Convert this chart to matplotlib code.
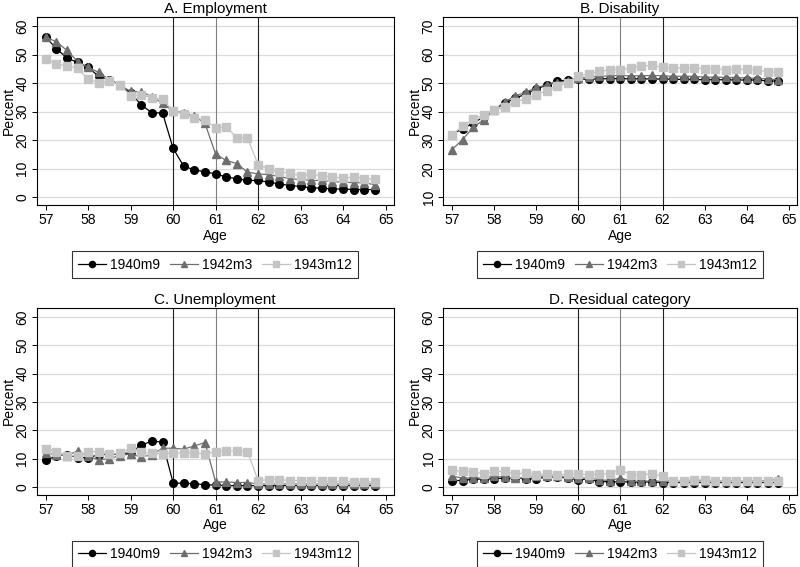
import numpy as np
import matplotlib.pyplot as plt

plt.rcParams['font.family'] = ['Liberation Sans', 'DejaVu Sans']

age = [57 + 0.25 * i for i in range(32)]
cohorts = ['1940m9', '1942m3', '1943m12']

emp_40 = [56.2, 52.1, 48.8, 47.3, 45.5, 42.4, 41.2, 39.4, 36.5, 32.4, 29.6, 29.6,
          17.1, 10.9, 9.6, 8.9, 8.2, 7.1, 6.5, 5.9, 5.9, 5.3, 4.7, 4.1,
          3.8, 3.3, 3.2, 2.9, 2.9, 2.7, 2.7, 2.7]
emp_42 = [56.2, 54.5, 51.5, 47.6, 45.5, 43.8, 41.2, 39.3, 37.1, 37.0, 35.3, 32.9,
          30.2, 29.6, 28.5, 25.9, 15.1, 12.9, 11.8, 8.8, 8.2, 7.9, 7.3, 6.5,
          6.2, 5.9, 5.9, 5.5, 5.3, 5.1, 5.1, 4.4]
emp_43 = [48.6, 46.7, 46.1, 45.3, 41.4, 40.2, 40.8, 39.4, 35.6, 35.9, 34.9, 34.4,
          30.2, 29.1, 27.9, 27.1, 24.4, 24.7, 20.9, 20.8, 11.4, 10.0, 8.8, 8.6,
          7.4, 8.0, 7.6, 7.1, 6.7, 7.1, 6.5, 6.5]

dis_40 = [32.0, 34.1, 35.9, 38.2, 40.6, 43.0, 44.7, 46.2, 47.9, 49.4, 50.6, 51.2,
          51.4, 51.4, 51.5, 51.6, 51.6, 51.5, 51.5, 51.5, 51.4, 51.4, 51.3, 51.3,
          51.2, 51.2, 51.2, 51.1, 51.1, 51.1, 50.8, 50.7]
dis_42 = [26.7, 30.2, 34.5, 37.1, 40.6, 43.5, 45.5, 46.8, 48.5, 49.4, 50.2, 50.8,
          51.8, 52.1, 52.4, 52.6, 52.6, 52.6, 52.6, 52.7, 52.6, 52.4, 52.4, 52.4,
          52.1, 52.1, 52.0, 52.0, 51.8, 51.7, 51.5, 51.2]
dis_43 = [32.0, 34.9, 37.3, 38.8, 40.6, 41.5, 43.5, 44.4, 45.9, 47.4, 49.1, 50.0,
          52.4, 53.3, 54.1, 54.7, 54.7, 55.3, 56.1, 56.2, 55.5, 55.3, 55.3, 55.3,
          55.1, 55.1, 54.7, 54.9, 54.9, 54.7, 53.9, 53.9]

une_40 = [9.4, 11.0, 11.4, 10.4, 10.4, 11.4, 11.6, 11.6, 12.2, 14.7, 16.3, 15.8,
          1.4, 1.3, 1.2, 0.8, 0.7, 0.5, 0.5, 0.5, 0.5, 0.5, 0.5, 0.5,
          0.5, 0.5, 0.5, 0.5, 0.5, 0.5, 0.5, 0.5]
une_42 = [12.0, 11.4, 11.0, 12.8, 10.8, 9.6, 10.0, 11.1, 11.7, 10.6, 11.4, 13.7,
          13.7, 13.4, 14.5, 15.7, 1.8, 1.8, 1.6, 1.6, 1.1, 1.1, 1.1, 1.1,
          1.1, 1.1, 1.1, 1.1, 1.1, 1.1, 1.1, 1.1]
une_43 = [13.4, 12.5, 11.1, 11.0, 12.5, 12.5, 11.6, 12.0, 13.7, 12.2, 12.0, 11.6,
          12.0, 12.0, 12.0, 11.7, 12.5, 12.8, 12.8, 12.5, 2.3, 2.6, 2.6, 2.3,
          2.3, 2.2, 2.0, 2.0, 2.0, 1.9, 1.8, 1.8]

res_40 = [2.3, 2.3, 2.8, 2.8, 2.9, 3.2, 3.2, 2.9, 2.9, 3.5, 3.5, 3.2,
          2.6, 2.8, 1.9, 1.9, 1.8, 1.8, 1.8, 1.8, 1.6, 1.6, 1.6, 1.6,
          1.6, 1.6, 1.6, 1.6, 1.6, 1.6, 1.6, 1.6]
res_42 = [3.8, 3.2, 3.2, 3.2, 3.8, 3.5, 3.2, 3.2, 3.8, 3.8, 3.8, 3.5,
          3.2, 3.2, 2.6, 2.3, 3.2, 2.0, 2.0, 2.2, 2.0, 2.2, 2.2, 2.2,
          2.2, 2.2, 2.2, 2.2, 2.2, 2.2, 2.2, 2.8]
res_43 = [6.1, 5.5, 5.3, 4.7, 5.5, 5.5, 4.7, 4.9, 4.3, 4.7, 4.1, 4.6,
          4.6, 4.3, 4.6, 4.6, 6.1, 4.3, 4.3, 4.6, 3.8, 2.3, 2.3, 2.6,
          2.6, 2.2, 2.2, 2.2, 2.3, 2.0, 2.0, 2.0]

titles = ['A. Employment', 'B. Disability', 'C. Unemployment', 'D. Residual category']
panels = [[emp_40, emp_42, emp_43], [dis_40, dis_42, dis_43],
          [une_40, une_42, une_43], [res_40, res_42, res_43]]
yticks = [range(0, 61, 10), range(10, 71, 10), range(0, 61, 10), range(0, 61, 10)]

colors = ['black', '#6e6e6e', '#c4c4c4']
markers = ['o', '^', 's']
msizes = [5.5, 6, 5.5]

fig = plt.figure(figsize=(8, 5.67), dpi=100)
pos = [[0.046, 0.638, 0.446, 0.332], [0.554, 0.638, 0.442, 0.332],
       [0.046, 0.127, 0.446, 0.330], [0.554, 0.127, 0.442, 0.330]]

for k in range(4):
    ax = fig.add_axes(pos[k])
    for xv, c in zip([60, 61, 62], ['#222222', '#808080', '#222222']):
        ax.axvline(xv, color=c, lw=0.8, zorder=1)
    for s in range(3):
        ax.plot(age, panels[k][s], color=colors[s], marker=markers[s],
                ms=msizes[s], lw=0.9, label=cohorts[s], zorder=3 + s)
    yt = list(yticks[k])
    ax.set_yticks(yt)
    ax.set_ylim(yt[0] - 2.8, yt[-1] + 3.2)
    ax.set_xticks(range(57, 66))
    ax.set_xlim(56.79, 65.19)
    ax.grid(axis='y', color='#dadada', lw=0.9, zorder=0)
    ax.set_axisbelow(True)
    ax.tick_params(axis='both', labelsize=10, length=3.5, width=0.7, pad=2)
    ax.tick_params(axis='y', labelrotation=90)
    for t in ax.get_yticklabels():
        t.set_va('center')
    for sp in ax.spines.values():
        sp.set_linewidth(0.8)
    ax.set_title(titles[k], fontsize=11, pad=3)
    ax.set_xlabel('Age', fontsize=10)
    ax.xaxis.set_label_coords(0.5, -0.125)
    ax.set_ylabel('Percent', fontsize=10)
    ax.yaxis.set_label_coords(-0.06, 0.5)
    leg = ax.legend(loc='upper center', bbox_to_anchor=(0.5, -0.245), ncol=3,
                    fontsize=10, frameon=True, fancybox=False, edgecolor='black',
                    handlelength=2, handletextpad=0.3, columnspacing=0.7,
                    borderpad=0.45, borderaxespad=0, numpoints=1, markerscale=0.8)
    leg.get_frame().set_linewidth(0.8)

fig.savefig('out.png', dpi=100)
